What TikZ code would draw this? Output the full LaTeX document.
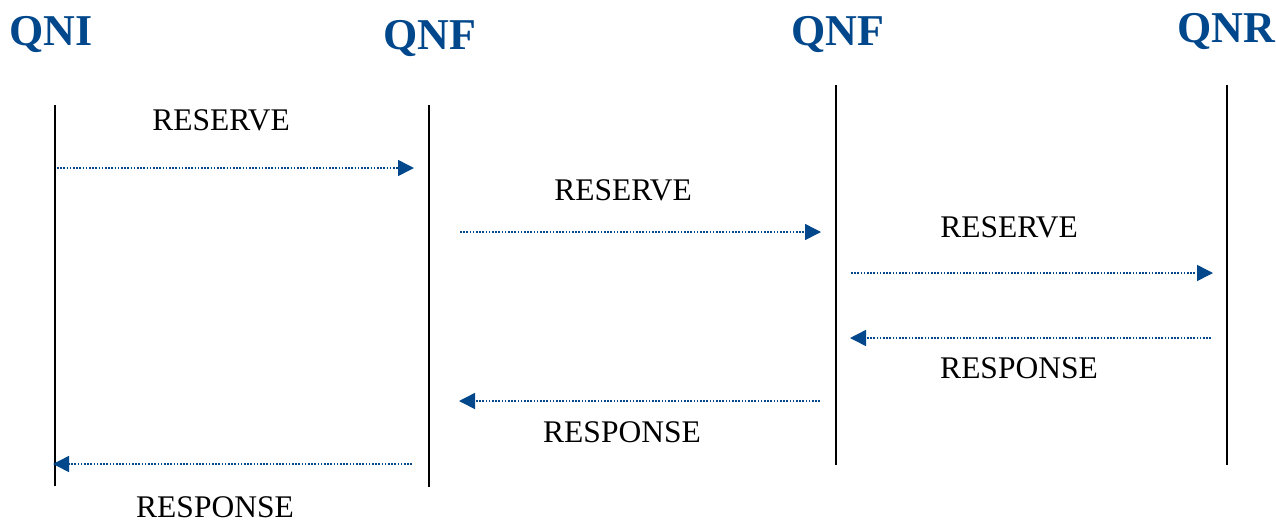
\documentclass[tikz,border=0pt]{standalone}
\usepackage{fontspec}
\setmainfont{Liberation Serif}
\usetikzlibrary{arrows.meta}
\definecolor{qblue}{RGB}{0,71,139}
\tikzset{
  entity/.style={anchor=base,text=qblue,font=\fontsize{44}{48}\selectfont\bfseries},
  msg/.style={anchor=base,font=\fontsize{31.5}{34}\selectfont},
  life/.style={line width=1.6pt},
  signal/.style={qblue,line width=1.5pt,dash pattern=on 1.6pt off 1.6pt,
    -{Triangle[length=16pt,width=16pt]}}
}

\begin{document}
\begin{tikzpicture}[x=1pt,y=-1pt]
  \useasboundingbox (0,0) rectangle (1276,523);
  % entities
  \node[entity] (qni) at (51,45) {QNI};
  \node[entity] (qnf1) at (430,49) {QNF};
  \node[entity] (qnf2) at (838,45) {QNF};
  \node[entity] (qnr) at (1226,42) {QNR};
  % life lines
  \coordinate (l1a) at (55,105);   \coordinate (l1b) at (55,486);
  \coordinate (l2a) at (429,105);  \coordinate (l2b) at (429,487);
  \coordinate (l3a) at (836,85);   \coordinate (l3b) at (836,465);
  \coordinate (l4a) at (1227,85);  \coordinate (l4b) at (1227,465);
  \draw[life] (l1a) -- (l1b);
  \draw[life] (l2a) -- (l2b);
  \draw[life] (l3a) -- (l3b);
  \draw[life] (l4a) -- (l4b);
  % reserve
  \coordinate (r1s) at (57,168);   \coordinate (r1e) at (414,168);
  \coordinate (r2s) at (460,232);  \coordinate (r2e) at (821,232);
  \coordinate (r3s) at (851,273);  \coordinate (r3e) at (1213,273);
  \draw[signal] (r1s) -- (r1e);
  \draw[signal] (r2s) -- (r2e);
  \draw[signal] (r3s) -- (r3e);
  \node[msg] (res1) at (221,130) {RESERVE};
  \node[msg] (res2) at (623,200) {RESERVE};
  \node[msg] (res3) at (1009,237) {RESERVE};
  % response
  \coordinate (p1s) at (1211,338); \coordinate (p1e) at (850,338);
  \coordinate (p2s) at (820,401);  \coordinate (p2e) at (459,401);
  \coordinate (p3s) at (412,464);  \coordinate (p3e) at (53,464);
  \draw[signal] (p1s) -- (p1e);
  \draw[signal] (p2s) -- (p2e);
  \draw[signal] (p3s) -- (p3e);
  \node[msg] (rsp1) at (1019,378) {RESPONSE};
  \node[msg] (rsp2) at (622,442) {RESPONSE};
  \node[msg] (rsp3) at (215,517) {RESPONSE};
\end{tikzpicture}
\end{document}
